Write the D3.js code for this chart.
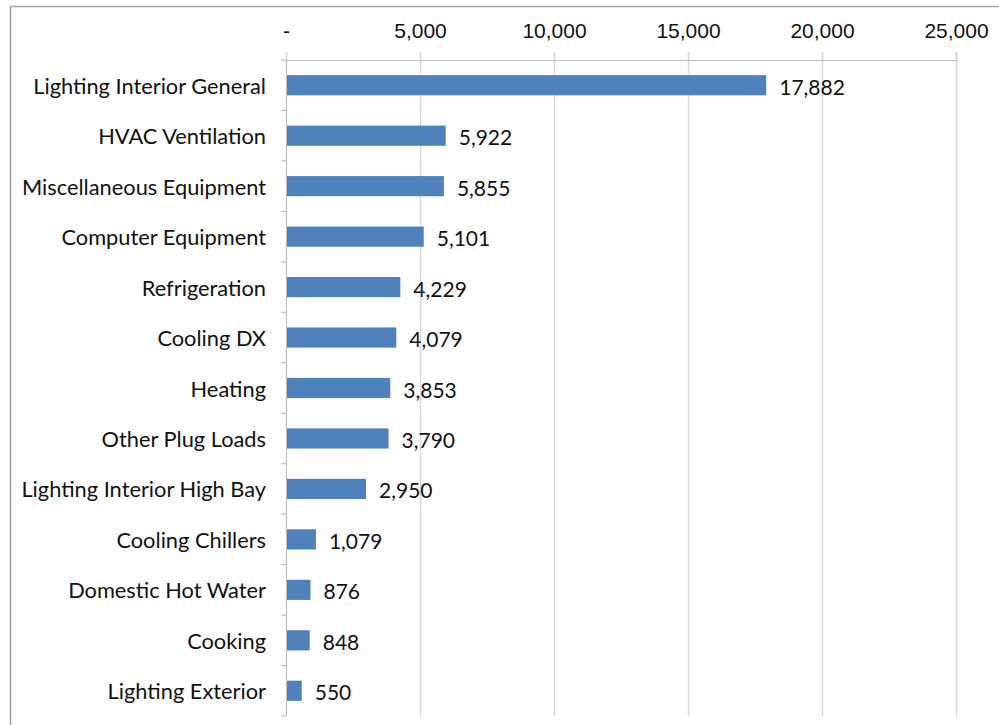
<!DOCTYPE html>
<html>
<head>
<meta charset="utf-8">
<script src="https://cdn.jsdelivr.net/npm/d3@7"></script>
<style>
  html, body { margin: 0; padding: 0; background: #fff; }
  svg { display: block; font-family: Lato, "Open Sans", sans-serif; }
</style>
</head>
<body>
<svg id="chart" width="999" height="725"></svg>
<script>
// End-use categories and their annual consumption
const categories = [
  "Lighting Interior General", "HVAC Ventilation", "Miscellaneous Equipment",
  "Computer Equipment", "Refrigeration", "Cooling DX", "Heating",
  "Other Plug Loads", "Lighting Interior High Bay", "Cooling Chillers",
  "Domestic Hot Water", "Cooking", "Lighting Exterior"
];
const values = [17882, 5922, 5855, 5101, 4229, 4079, 3853, 3790, 2950, 1079, 876, 848, 550];
const tickValues = [0, 5000, 10000, 15000, 20000, 25000];
const tickLabels = ["-", "5,000", "10,000", "15,000", "20,000", "25,000"];

const svg = d3.select("#chart");
const margin = { left: 286, top: 60, right: 43, bottom: 9 };
const W = 999, H = 725;
const plotW = W - margin.left - margin.right;
const plotH = H - margin.top - margin.bottom;
const catFont = "21.8px";
const numFont = "21px";

// outer chart frame (only left and top edges fall inside the view)
svg.append("path")
  .attr("d", `M10.5,${H} V6.5 H${W}`)
  .attr("fill", "none").attr("stroke", "#a6a6a6").attr("stroke-width", 1.5);

const x = d3.scaleLinear().domain([0, 25000]).range([0, plotW]);
const y = d3.scaleBand().domain(categories).range([0, plotH]).paddingInner(0.6).paddingOuter(0.3);

const g = svg.append("g").attr("transform", `translate(${margin.left},${margin.top})`);

// vertical gridlines
g.append("g").selectAll("line").data(tickValues.slice(1)).join("line")
  .attr("x1", d => Math.round(x(d)) + 0.5).attr("x2", d => Math.round(x(d)) + 0.5)
  .attr("y1", -8).attr("y2", plotH)
  .attr("stroke", "#d9d9d9").attr("stroke-width", 1.5);

// top value axis
const xAxis = d3.axisTop(x).tickValues(tickValues)
  .tickFormat((d, i) => tickLabels[i]).tickSize(8).tickPadding(14);
const gx = g.append("g").call(xAxis);
gx.select(".domain").attr("stroke", "#bfbfbf").attr("stroke-width", 1.2);
gx.selectAll(".tick line").attr("stroke", "#d9d9d9").attr("stroke-width", 1.5);
gx.selectAll(".tick text").attr("fill", "#111").style("font-size", numFont);

// category axis with ticks at band boundaries
const boundaries = d3.range(categories.length + 1).map(i => i * (plotH / categories.length));
const gy = g.append("g");
gy.append("line").attr("x1", 0.5).attr("x2", 0.5).attr("y1", 0).attr("y2", plotH)
  .attr("stroke", "#bfbfbf").attr("stroke-width", 1.2);
gy.selectAll("line.tk").data(boundaries).join("line").attr("class", "tk")
  .attr("x1", -5).attr("x2", 0).attr("y1", d => d).attr("y2", d => d)
  .attr("stroke", "#bfbfbf").attr("stroke-width", 1.2);
gy.selectAll("text").data(categories).join("text")
  .attr("x", -20).attr("y", d => y(d) + y.bandwidth() / 2)
  .attr("text-anchor", "end").attr("dominant-baseline", "central")
  .attr("fill", "#111").style("font-size", catFont)
  .text(d => d);

// bars
const data = categories.map((c, i) => ({ c, v: values[i] }));
g.append("g").selectAll("rect").data(data).join("rect")
  .attr("x", 1).attr("y", d => y(d.c))
  .attr("width", d => x(d.v)).attr("height", y.bandwidth())
  .attr("fill", "#4f81bd");

// value labels
const fmt = d3.format(",");
g.append("g").selectAll("text").data(data).join("text")
  .attr("x", d => x(d.v) + 14).attr("y", d => y(d.c) + y.bandwidth() / 2 + 1)
  .attr("dominant-baseline", "central")
  .attr("fill", "#111").style("font-size", numFont)
  .text(d => fmt(d.v));
</script>
</body>
</html>
